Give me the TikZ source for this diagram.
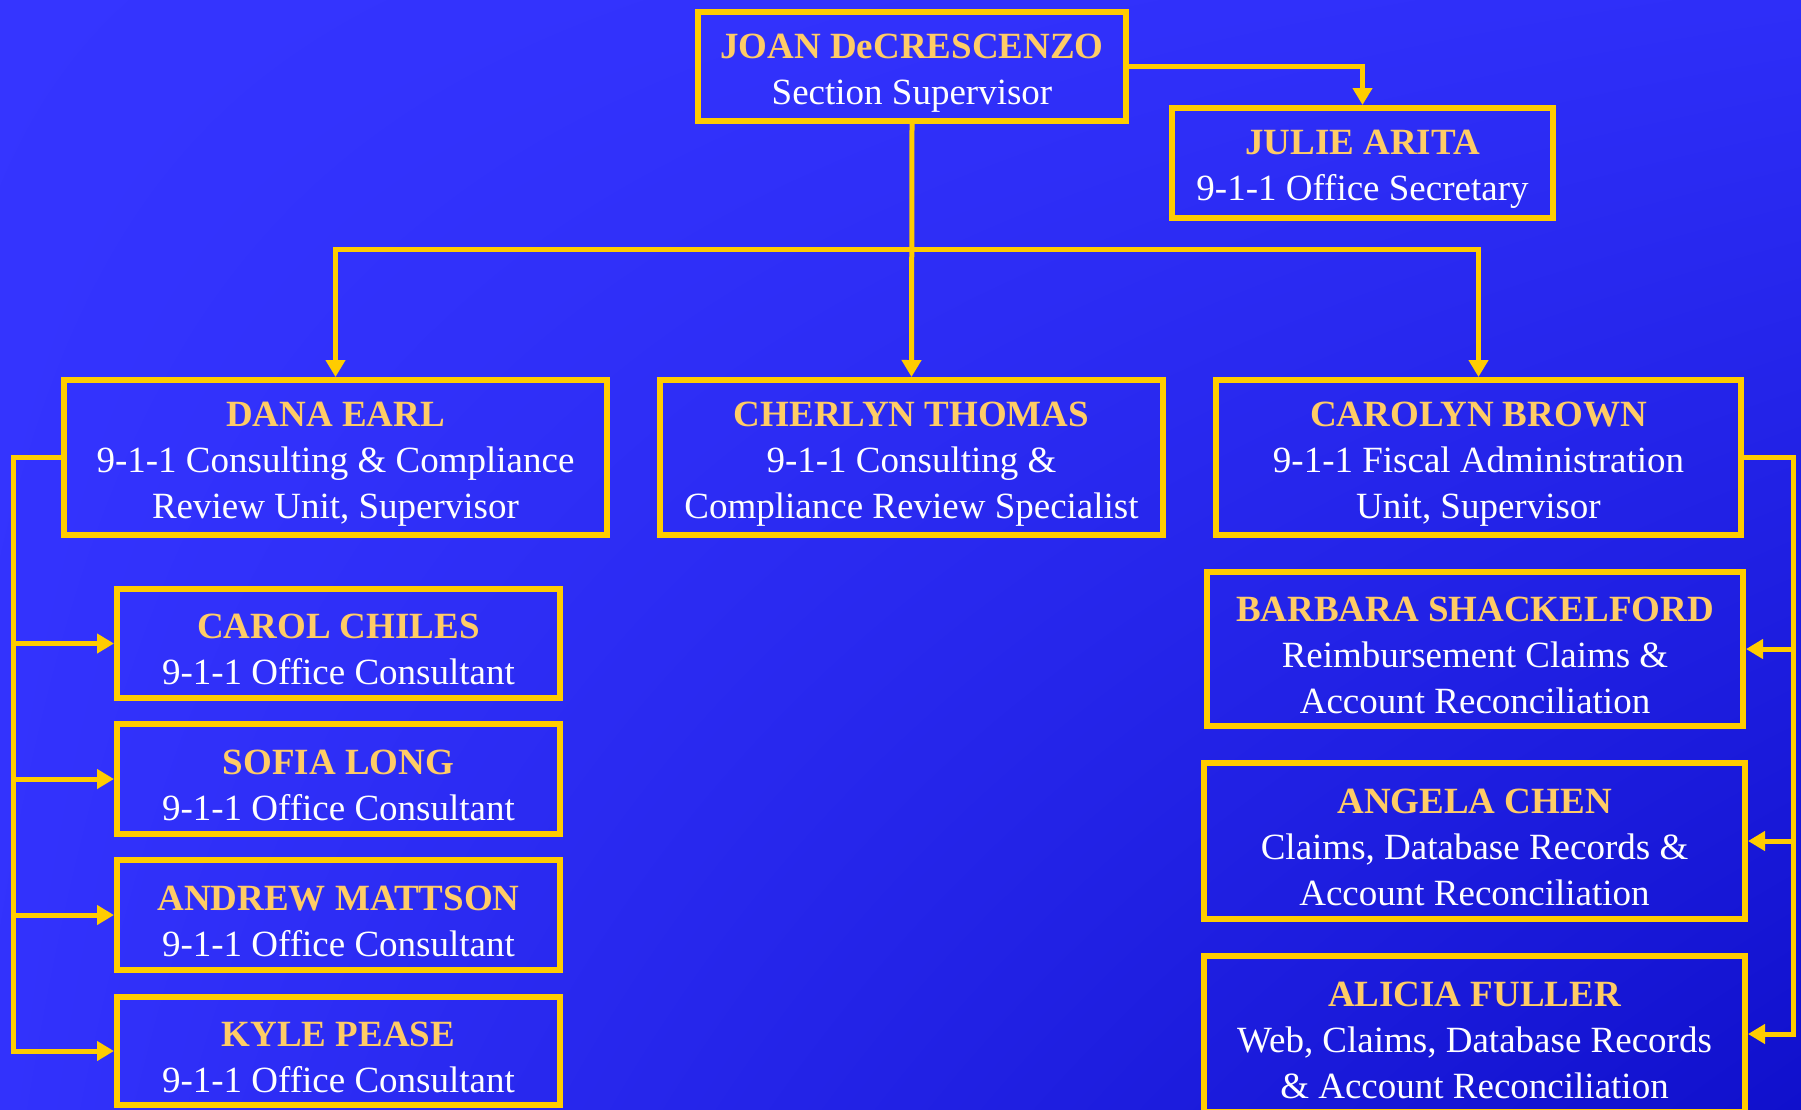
\documentclass[tikz,border=0pt]{standalone}
\usepackage{fontspec}
\setmainfont{Liberation Serif}
\usetikzlibrary{arrows.meta,shadings}
\definecolor{bgul}{HTML}{3535FF}
\definecolor{bgur}{HTML}{2E2EF8}
\definecolor{bgll}{HTML}{3232FC}
\definecolor{bglr}{HTML}{1010CC}
\definecolor{linegold}{HTML}{FFCC00}
\definecolor{namegold}{HTML}{FFCC66}
\newcommand{\staffname}[1]{\rule{0pt}{37pt}{\bfseries\color{namegold}#1}}

\begin{document}
\begin{tikzpicture}[x=1pt,y=-1pt,
    box/.style={draw=linegold,line width=6pt,rectangle,align=center,text=white,
      font=\fontsize{37}{46}\selectfont,inner sep=0pt},
    link/.style={draw=linegold,line width=5pt,-{Triangle[length=17pt,width=19pt]}}]
    \shade[upper left=bgul,upper right=bgur,lower left=bgll,lower right=bglr] (0,0) rectangle (1801,1109);
    \useasboundingbox (0,0) rectangle (1801,1109);
    % top
    \node[box,minimum width=428pt,minimum height=109pt] (joan) at (912,66.5) {\staffname{JOAN DeCRESCENZO}\\Section Supervisor};
    \node[box,minimum width=381pt,minimum height=110pt] (julie) at (1362.5,163) {\staffname{JULIE ARITA}\\9-1-1 Office Secretary};
    % units
    \node[box,minimum width=543pt,minimum height=155pt] (dana) at (335.5,457.5) {\staffname{DANA EARL}\\9-1-1 Consulting \& Compliance\\Review Unit, Supervisor};
    \node[box,minimum width=503pt,minimum height=155pt] (cherlyn) at (911.5,457.5) {\staffname{CHERLYN THOMAS}\\9-1-1 Consulting \&\\Compliance Review Specialist};
    \node[box,minimum width=525pt,minimum height=155pt] (carolyn) at (1478.5,457.5) {\staffname{CAROLYN BROWN}\\9-1-1 Fiscal Administration\\Unit, Supervisor};
    % consultants
    \node[box,minimum width=443pt,minimum height=109pt] (carol) at (338.5,643.5) {\staffname{CAROL CHILES}\\9-1-1 Office Consultant};
    \node[box,minimum width=443pt,minimum height=110pt] (sofia) at (338.5,779) {\staffname{SOFIA LONG}\\9-1-1 Office Consultant};
    \node[box,minimum width=443pt,minimum height=110pt] (andrew) at (338.5,915) {\staffname{ANDREW MATTSON}\\9-1-1 Office Consultant};
    \node[box,minimum width=443pt,minimum height=108pt] (kyle) at (338.5,1051) {\staffname{KYLE PEASE}\\9-1-1 Office Consultant};
    % fiscal staff
    \node[box,minimum width=536pt,minimum height=154pt] (barbara) at (1475,649) {\staffname{BARBARA SHACKELFORD}\\Reimbursement Claims \&\\Account Reconciliation};
    \node[box,minimum width=541pt,minimum height=156pt] (angela) at (1474.5,841) {\staffname{ANGELA CHEN}\\Claims, Database Records \&\\Account Reconciliation};
    \node[box,minimum width=541pt,minimum height=156pt] (alicia) at (1474.5,1034) {\staffname{ALICIA FULLER}\\Web, Claims, Database Records\\\& Account Reconciliation};
    % connectors
    \coordinate (bus) at (912,249);
    \draw[link] (joan.east) -| (julie.north);
    \draw[link] (joan.south) -- (cherlyn.north);
    \draw[link] (bus) -| (dana.north);
    \draw[link] (bus) -| (carolyn.north);
    \foreach \kid in {carol,sofia,andrew,kyle}
        \draw[link] (dana.west) -- ++(-48,0) |- (\kid.west);
    \foreach \kid in {barbara,angela,alicia}
        \draw[link] (carolyn.east) -- ++(49,0) |- (\kid.east);
\end{tikzpicture}
\end{document}
